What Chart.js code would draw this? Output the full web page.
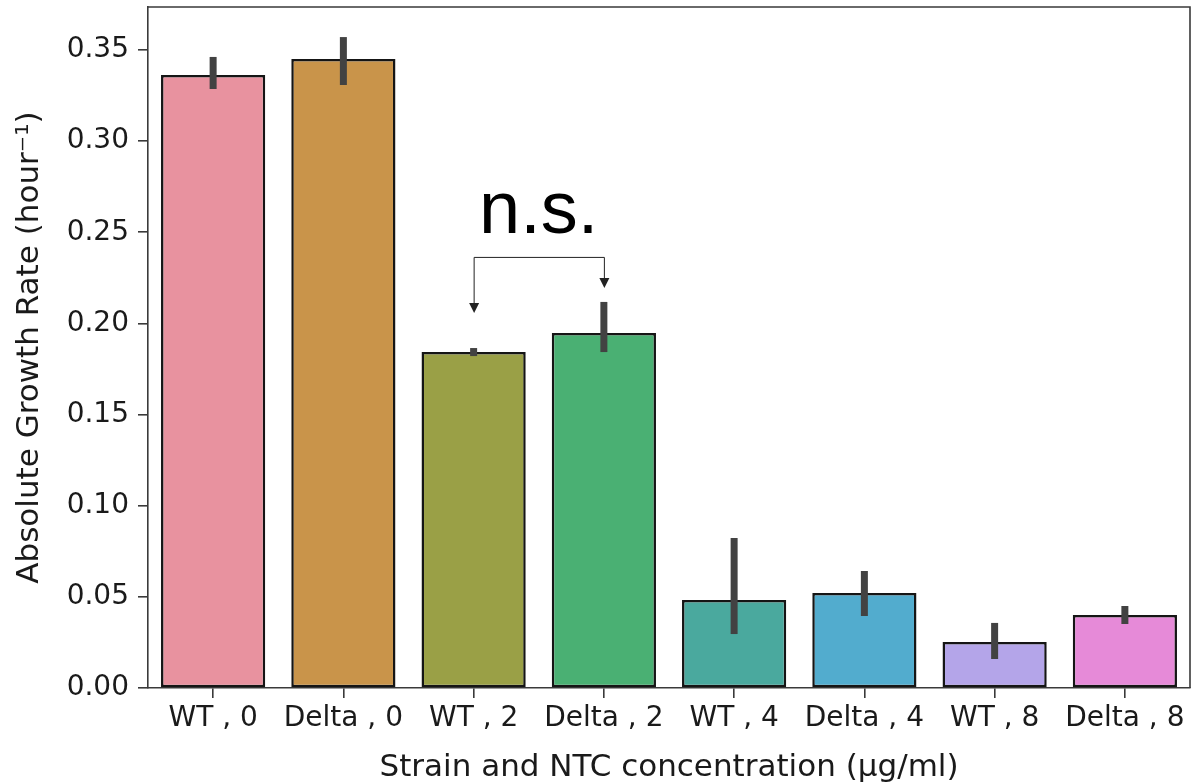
<!DOCTYPE html>
<html>
<head>
<meta charset="utf-8">
<script src="https://cdn.jsdelivr.net/npm/chart.js@4"></script>
<style>
  html, body { margin: 0; padding: 0; background: #fff; }
  #wrap { width: 1204px; height: 783px; }
</style>
</head>
<body>
<div id="wrap"><canvas id="chart" width="1204" height="783"></canvas></div>
<script>
// Growth rate per strain / NTC concentration, with error intervals
const categories = ['WT , 0', 'Delta , 0', 'WT , 2', 'Delta , 2', 'WT , 4', 'Delta , 4', 'WT , 8', 'Delta , 8'];
const growthRate = [0.3363, 0.3451, 0.1843, 0.1948, 0.0483, 0.0521, 0.0252, 0.0400];
const errLow     = [0.3286, 0.3308, 0.1821, 0.1843, 0.0296, 0.0395, 0.0159, 0.0351];
const errHigh    = [0.3462, 0.3571, 0.1865, 0.2118, 0.0823, 0.0642, 0.0357, 0.0450];
const barColors  = ['#E8929F', '#C9944A', '#9AA046', '#4AB073', '#4AA99E', '#52ACCE', '#B4A5E9', '#E68AD8'];
const yTicks     = [0, 0.05, 0.10, 0.15, 0.20, 0.25, 0.30, 0.35];
const yMax = 0.3736;

// Comparison bracket between "WT , 2" and "Delta , 2"
const compare = { from: 2, to: 3, barY: 0.2365, tipFrom: 0.2057, tipTo: 0.2194, text: 'n.s.', textY: 0.2496 };

const spineColor = '#3a3a3a';

const errorBars = {
  id: 'errorBars',
  afterDatasetsDraw(chart) {
    const { ctx, scales: { y } } = chart;
    const meta = chart.getDatasetMeta(0);
    ctx.save();
    ctx.strokeStyle = '#424242';
    ctx.lineWidth = 7;
    ctx.lineCap = 'butt';
    meta.data.forEach((bar, i) => {
      ctx.beginPath();
      ctx.moveTo(bar.x, y.getPixelForValue(errLow[i]));
      ctx.lineTo(bar.x, y.getPixelForValue(errHigh[i]));
      ctx.stroke();
    });
    ctx.restore();
  }
};

const frame = {
  id: 'frame',
  afterDraw(chart) {
    const { ctx, chartArea: a } = chart;
    ctx.save();
    ctx.strokeStyle = spineColor;
    ctx.lineWidth = 1.6;
    ctx.beginPath();
    ctx.moveTo(a.left, a.top);
    ctx.lineTo(a.right, a.top);
    ctx.lineTo(a.right, a.bottom);
    ctx.stroke();
    ctx.restore();
  }
};

const bracket = {
  id: 'bracket',
  afterDraw(chart) {
    const { ctx, scales: { x, y } } = chart;
    const x1 = x.getPixelForValue(compare.from);
    const x2 = x.getPixelForValue(compare.to);
    const yb = y.getPixelForValue(compare.barY);
    const t1 = y.getPixelForValue(compare.tipFrom);
    const t2 = y.getPixelForValue(compare.tipTo);
    const ah = 10, aw = 5;
    ctx.save();
    ctx.strokeStyle = '#222';
    ctx.fillStyle = '#222';
    ctx.lineWidth = 1;
    ctx.beginPath();
    ctx.moveTo(x1 + 0.5, t1 - ah);
    ctx.lineTo(x1 + 0.5, yb + 0.5);
    ctx.lineTo(x2 + 0.5, yb + 0.5);
    ctx.lineTo(x2 + 0.5, t2 - ah);
    ctx.stroke();
    [[x1, t1], [x2, t2]].forEach(([px, py]) => {
      ctx.beginPath();
      ctx.moveTo(px + 0.5 - aw, py - ah);
      ctx.lineTo(px + 0.5 + aw, py - ah);
      ctx.lineTo(px + 0.5, py);
      ctx.closePath();
      ctx.fill();
    });
    ctx.fillStyle = '#000';
    ctx.font = '74px "Liberation Sans", Arial, sans-serif';
    ctx.textAlign = 'center';
    ctx.textBaseline = 'alphabetic';
    ctx.fillText(compare.text, (x1 + x2) / 2, y.getPixelForValue(compare.textY));
    ctx.restore();
  }
};

new Chart(document.getElementById('chart'), {
  type: 'bar',
  data: {
    labels: categories,
    datasets: [{
      data: growthRate,
      backgroundColor: barColors,
      borderColor: '#151515',
      borderWidth: 2.5,
      borderSkipped: false,
      barPercentage: 0.8,
      categoryPercentage: 1.0
    }]
  },
  options: {
    responsive: false,
    animation: false,
    layout: { padding: { top: 7, right: 14, left: 0, bottom: 0 } },
    plugins: { legend: { display: false }, tooltip: { enabled: false } },
    scales: {
      x: {
        offset: true,
        grid: { display: true, drawOnChartArea: false, drawTicks: true, tickLength: 10, color: spineColor, lineWidth: 1.6, offset: false },
        border: { display: true, color: spineColor, width: 1.6 },
        ticks: { color: '#1a1a1a', padding: 4, maxRotation: 0, autoSkip: false,
                 font: { family: '"DejaVu Sans", sans-serif', size: 28 } },
        title: { display: true, text: 'Strain and NTC concentration (µg/ml)', color: '#1a1a1a',
                 padding: { top: 0, bottom: 0 },
                 font: { family: '"DejaVu Sans", sans-serif', size: 31, lineHeight: 1 } },
        afterFit(s) { s.height = 95; s.paddingLeft = 0; s.paddingRight = 0; }
      },
      y: {
        min: 0,
        max: yMax,
        afterBuildTicks(s) { s.ticks = yTicks.map(v => ({ value: v })); },
        grid: { display: true, drawOnChartArea: false, drawTicks: true, tickLength: 10, color: spineColor, lineWidth: 1.6 },
        border: { display: true, color: spineColor, width: 1.6 },
        ticks: { color: '#1a1a1a', padding: 9, callback: v => Number(v).toFixed(2),
                 font: { family: '"DejaVu Sans", sans-serif', size: 28 } },
        title: { display: true, text: 'Absolute Growth Rate (hour⁻¹)', color: '#1a1a1a',
                 padding: { top: 14, bottom: 0 },
                 font: { family: '"DejaVu Sans", sans-serif', size: 31, lineHeight: 1 } },
        afterFit(s) { s.width = 148; s.paddingTop = 0; s.paddingBottom = 0; }
      }
    }
  },
  plugins: [errorBars, frame, bracket]
});
</script>
</body>
</html>
